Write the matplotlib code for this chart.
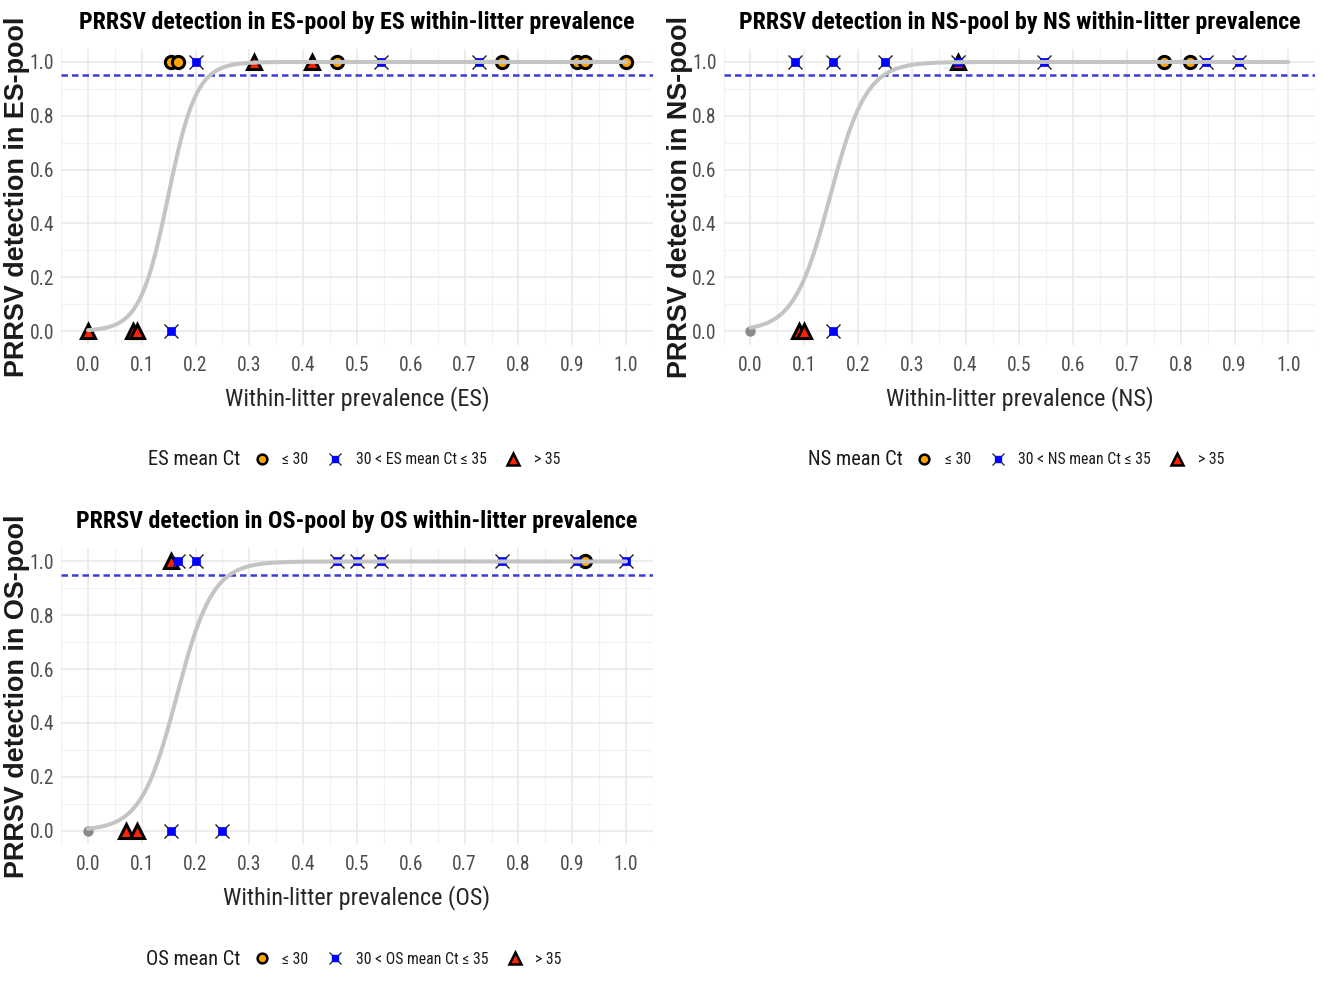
import numpy as np
import matplotlib
matplotlib.use("Agg")
import matplotlib.pyplot as plt
from matplotlib.lines import Line2D
from matplotlib.ticker import MultipleLocator
from matplotlib import font_manager as fm

# ---------------- data ----------------
# ES panel: within-litter prevalence, pool result (0/1), Ct category
es_x = [0.154, 0.167, 0.462, 0.769, 0.909, 0.923, 1.0,
        0.200, 0.545, 0.727,
        0.308, 0.417,
        0.0, 0.083, 0.091,
        0.154]
es_y = [1, 1, 1, 1, 1, 1, 1,
        1, 1, 1,
        1, 1,
        0, 0, 0,
        0]
es_cat = ["le30"] * 7 + ["mid"] * 3 + ["gt35"] * 2 + ["gt35"] * 3 + ["mid"]

ns_x = [0.769, 0.818,
        0.083, 0.154, 0.250, 0.385, 0.545, 0.846, 0.909,
        0.385,
        0.0,
        0.091, 0.100,
        0.154]
ns_y = [1, 1,
        1, 1, 1, 1, 1, 1, 1,
        1,
        0,
        0, 0,
        0]
ns_cat = ["le30"] * 2 + ["mid"] * 7 + ["gt35"] + ["na"] + ["gt35"] * 2 + ["mid"]

os_x = [0.923,
        0.167, 0.200, 0.462, 0.500, 0.545, 0.769, 0.909, 1.0,
        0.154,
        0.0,
        0.071, 0.091,
        0.154, 0.250]
os_y = [1,
        1, 1, 1, 1, 1, 1, 1, 1,
        1,
        0,
        0, 0,
        0, 0]
os_cat = ["le30"] + ["mid"] * 8 + ["gt35"] + ["na"] + ["gt35"] * 2 + ["mid"] * 2

# fitted logistic regression coefficients (intercept, slope) per panel
es_coef = (-5.66, 38.0)
ns_coef = (-4.40, 29.7)
os_coef = (-4.95, 30.0)

threshold = 0.95
x_ticks = [0.0, 0.1, 0.2, 0.3, 0.4, 0.5, 0.6, 0.7, 0.8, 0.9, 1.0]
y_ticks = [0.0, 0.2, 0.4, 0.6, 0.8, 1.0]

# ---------------- fonts ----------------
names = {f.name for f in fm.fontManager.ttflist}
cond_dejavu = any(f.name == "DejaVu Sans" and "Condensed" in f.fname for f in fm.fontManager.ttflist)
NARROW_STRETCH = "normal"
if "Liberation Sans Narrow" in names:
    NARROW_FAM = "Liberation Sans Narrow"
elif "Roboto Condensed" in names:
    NARROW_FAM = "Roboto Condensed"
elif "DejaVu Sans Condensed" in names:
    NARROW_FAM = "DejaVu Sans Condensed"
elif cond_dejavu:
    NARROW_FAM = "DejaVu Sans"
    NARROW_STRETCH = "condensed"
elif "Roboto" in names:
    NARROW_FAM = "Roboto"
else:
    NARROW_FAM = "DejaVu Sans"
NARROW = [NARROW_FAM, "DejaVu Sans"]
BOLDWIDE = ["Liberation Sans", "DejaVu Sans"] if "Liberation Sans" in names else ["DejaVu Sans"]

C_OR = "#FFA500"
C_BL = "#0000FF"
C_RD = "#FF2200"
C_NA = "#8a8a8a"
C_CURVE = "#c4c4c4"
C_DASH = "#3b3bdb"

fig = plt.figure(figsize=(13.25, 10.02), dpi=100)
W, H = 1325.0, 1002.0
renderer = fig.canvas.get_renderer()


def fit_size(s, target_px, weight="normal", family=NARROW, base=20.0):
    t = fig.text(0, 0, s, family=family, fontweight=weight, fontsize=base,
                 fontstretch=NARROW_STRETCH)
    w = t.get_window_extent(renderer).width
    t.remove()
    return base * target_px / w


def axes_at(left, top, right, bottom):
    return fig.add_axes([left / W, 1 - bottom / H, (right - left) / W, (bottom - top) / H])

ax_es = axes_at(61.1, 48.5, 652.9, 344.5)
ax_ns = axes_at(723.5, 48.5, 1315.3, 344.5)
ax_os = axes_at(61.1, 548.0, 652.9, 844.0)

FS_TITLE = fit_size("PRRSV detection in ES-pool by ES within-litter prevalence", 553, weight="bold")
FS_XLAB = fit_size("Within-litter prevalence (ES)", 263)
FS_TICK = min(fit_size("0.0", 24.5), 16.5)
FS_LTITLE = fit_size("ES mean Ct", 92)
FS_LAB = fit_size("30 < ES mean Ct ≤ 35", 131)
FS_YLAB = fit_size("PRRSV detection in ES-pool", 362, weight="bold", family=BOLDWIDE)
LAB_PX = FS_LAB * 100 / 72.0


def draw_points(ax, xs, ys, cats):
    xs = np.asarray(xs); ys = np.asarray(ys); cats = np.asarray(cats)
    m = cats == "le30"
    ax.plot(xs[m], ys[m], ls="none", marker="o", ms=8.8, mfc=C_OR, mec="black", mew=2.2, zorder=3)
    m = cats == "gt35"
    ax.plot(xs[m], ys[m], ls="none", marker="^", ms=10.5, mfc=C_RD, mec="black", mew=2.2, zorder=3)
    m = cats == "mid"
    ax.plot(xs[m], ys[m], ls="none", marker="x", ms=10, mec="#202020", mew=1.0, zorder=3)
    ax.plot(xs[m], ys[m], ls="none", marker="s", ms=5.5, mfc=C_BL, mec=C_BL, mew=0.5, zorder=3.5)
    m = cats == "na"
    ax.plot(xs[m], ys[m], ls="none", marker="o", ms=6.5, mfc=C_NA, mec=C_NA, zorder=3)


def style_panel(ax, name, xs, ys, cats, coef):
    ax.set_xlim(-0.05, 1.05)
    ax.set_ylim(-0.05, 1.05)
    ax.set_facecolor("white")
    for s in ax.spines.values():
        s.set_visible(False)
    ax.xaxis.set_minor_locator(MultipleLocator(0.05))
    ax.yaxis.set_minor_locator(MultipleLocator(0.1))
    ax.set_xticks(x_ticks)
    ax.set_yticks(y_ticks)
    ax.set_xticklabels([f"{v:.1f}" for v in x_ticks], family=NARROW, fontsize=FS_TICK,
                       fontstretch=NARROW_STRETCH, color="#4d4d4d")
    ax.set_yticklabels([f"{v:.1f}" for v in y_ticks], family=NARROW, fontsize=FS_TICK,
                       fontstretch=NARROW_STRETCH, color="#4d4d4d")
    ax.tick_params(which="both", length=0)
    ax.tick_params(axis="x", pad=8)
    ax.tick_params(axis="y", pad=5)
    ax.grid(which="major", color="#e8e8e8", lw=1.1)
    ax.grid(which="minor", color="#f1f1f1", lw=0.8)
    ax.set_axisbelow(True)

    ax.axhline(threshold, color=C_DASH, lw=1.8, ls=(0, (2.6, 1.6)), zorder=2)
    draw_points(ax, xs, ys, cats)
    xx = np.linspace(0, 1, 400)
    b0, b1 = coef
    ax.plot(xx, 1 / (1 + np.exp(-(b0 + b1 * xx))), color=C_CURVE, lw=2.9,
            solid_capstyle="round", zorder=4)

    ax.text(0.5, 1.0 + 26.5 / 296, f"PRRSV detection in {name}-pool by {name} within-litter prevalence",
            transform=ax.transAxes, ha="center", va="center", family=NARROW,
            fontstretch=NARROW_STRETCH, fontweight="bold", fontsize=FS_TITLE, color="black")
    ax.set_xlabel(f"Within-litter prevalence ({name})", family=NARROW, fontsize=FS_XLAB,
                  fontstretch=NARROW_STRETCH, color="#262626")
    ax.xaxis.set_label_coords(0.5, -0.181)
    ax.xaxis.label.set_va("center")
    ax.set_ylabel(f"PRRSV detection in {name}-pool", family=BOLDWIDE, fontweight="bold",
                  fontsize=FS_YLAB, color="#1a1a1a")
    ax.yaxis.set_label_coords(-0.0743, 0.5)
    ax.yaxis.label.set_va("center")

    # legend
    ax.text(0.3023, -0.39, f"{name} mean Ct", transform=ax.transAxes, ha="right", va="center",
            family=NARROW, fontstretch=NARROW_STRETCH, fontsize=FS_LTITLE, color="#1a1a1a")
    h1 = Line2D([], [], ls="none", marker="o", ms=7, mfc=C_OR, mec="black", mew=1.8)
    h2 = (Line2D([], [], ls="none", marker="x", ms=8.5, mec="#202020", mew=0.9),
          Line2D([], [], ls="none", marker="s", ms=4.8, mfc=C_BL, mec=C_BL))
    h3 = Line2D([], [], ls="none", marker="^", ms=8.5, mfc=C_RD, mec="black", mew=1.8)
    hl = 1.0
    pad = (20.5 - hl * LAB_PX / 2) / LAB_PX
    colsp = (26.5 - hl * LAB_PX / 2) / LAB_PX
    leg = ax.legend([h1, h2, h3], ["≤ 30", f"30 < {name} mean Ct ≤ 35", "> 35"],
                    loc="center left", bbox_to_anchor=((262 - hl * LAB_PX / 2 - 61.1) / 591.8, -0.39),
                    ncol=3, frameon=False, borderpad=0, borderaxespad=0,
                    handlelength=hl, handletextpad=pad, columnspacing=colsp,
                    prop={"family": NARROW, "size": FS_LAB, "stretch": NARROW_STRETCH})
    for t in leg.get_texts():
        t.set_color("#1a1a1a")


style_panel(ax_es, "ES", es_x, es_y, es_cat, es_coef)
style_panel(ax_ns, "NS", ns_x, ns_y, ns_cat, ns_coef)
style_panel(ax_os, "OS", os_x, os_y, os_cat, os_coef)

fig.savefig("out.png", dpi=100, facecolor="white")
